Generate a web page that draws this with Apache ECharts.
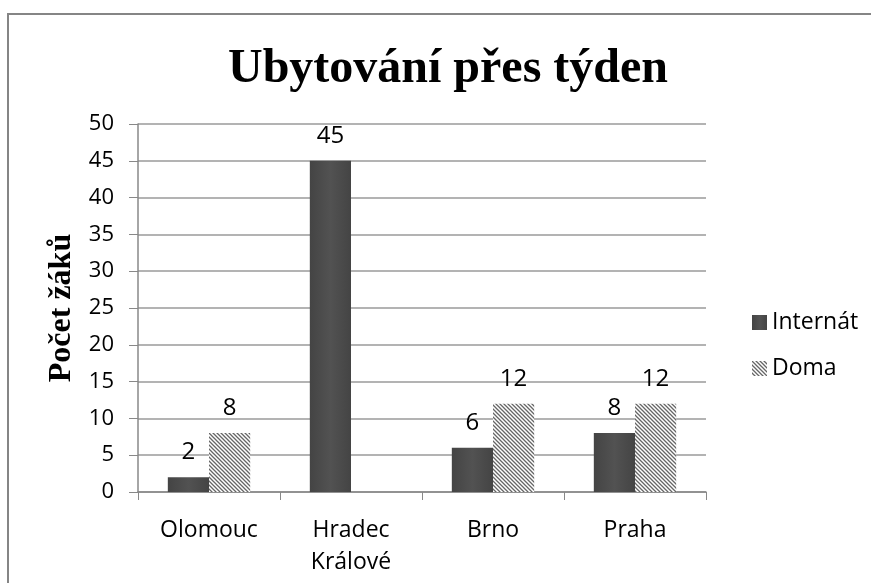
<!DOCTYPE html>
<html>
<head>
<meta charset="utf-8">
<script src="https://cdn.jsdelivr.net/npm/echarts@6/dist/echarts.min.js"></script>
<style>
  html, body { margin: 0; padding: 0; background: #fff; }
  #chart { width: 871px; height: 583px; }
</style>
</head>
<body>
<div id="chart"></div>
<script>
var categories = ['Olomouc', 'Hradec\nKrálové', 'Brno', 'Praha'];
var internat = [2, 45, 6, 8];
var doma = [8, null, 12, 12];
var yTicks = [0, 5, 10, 15, 20, 25, 30, 35, 40, 45, 50];

// hatch pattern for "Doma"
var hatch = document.createElement('canvas');
hatch.width = 4;
hatch.height = 4;
var hc = hatch.getContext('2d');
hc.fillStyle = '#ffffff';
hc.fillRect(0, 0, 4, 4);
hc.strokeStyle = '#666666';
hc.lineWidth = 1.3;
hc.beginPath();
hc.moveTo(-1, -1); hc.lineTo(5, 5);
hc.moveTo(-1, 3); hc.lineTo(1, 5);
hc.moveTo(3, -1); hc.lineTo(5, 1);
hc.stroke();

var chart = echarts.init(document.getElementById('chart'));
var labelFont = { color: '#000', fontSize: 24, fontFamily: 'Open Sans' };

var option = {
	animation: false,
	title: {
		text: 'Ubytování přes týden',
		left: 443,
		top: 41,
		textAlign: 'center',
		textStyle: { fontFamily: 'Liberation Serif', fontSize: 48, fontWeight: 'bold', color: '#000' }
	},
	graphic: [{
		type: 'rect',
		shape: { x: 8, y: 14, width: 880, height: 600 },
		style: { fill: 'none', stroke: '#858585', lineWidth: 2 },
		silent: true
	}],
	grid: { left: 138, right: 165, top: 124, bottom: 91 },
	legend: {
		orient: 'vertical',
		left: 747,
		top: 306,
		itemWidth: 15,
		itemHeight: 15,
		itemGap: 23,
		icon: 'rect',
		textStyle: { fontSize: 23, fontFamily: 'Open Sans', color: '#000' },
		data: ['Internát', 'Doma']
	},
	xAxis: {
		type: 'category',
		data: categories,
		axisLine: { lineStyle: { color: '#888', width: 1.5 } },
		axisTick: { show: true, length: 8, lineStyle: { color: '#888' } },
		axisLabel: { fontSize: 23, fontFamily: 'Open Sans', color: '#000', margin: 22, lineHeight: 32 }
	},
	yAxis: {
		type: 'value',
		min: 0,
		max: 50,
		interval: 5,
		name: 'Počet žáků',
		nameLocation: 'middle',
		nameGap: 58,
		nameTextStyle: { fontFamily: 'Liberation Serif', fontSize: 32, fontWeight: 'bold', color: '#000' },
		axisLine: { show: true, lineStyle: { color: '#888', width: 1.5 } },
		axisTick: { show: true, inside: false, length: 9, lineStyle: { color: '#888' } },
		axisLabel: {
			fontSize: 22, fontFamily: 'Open Sans', color: '#000', margin: 24,
			formatter: function (v) { return yTicks.indexOf(v) >= 0 ? String(v) : ''; }
		},
		splitLine: { lineStyle: { color: '#9a9a9a', width: 1.5 } }
	},
	series: [{
		name: 'Internát',
		type: 'bar',
		data: internat,
		barGap: '0%',
		barCategoryGap: '42%',
		itemStyle: {
			color: {
				type: 'linear', x: 0, y: 0, x2: 1, y2: 0,
				colorStops: [
					{ offset: 0, color: '#444' },
					{ offset: 0.5, color: '#525252' },
					{ offset: 1, color: '#444' }
				]
			}
		},
		label: Object.assign({ show: true, position: 'top', distance: 13 }, labelFont)
	}, {
		name: 'Doma',
		type: 'bar',
		data: doma,
		itemStyle: { color: { image: hatch, repeat: 'repeat' } },
		label: Object.assign({ show: true, position: 'top', distance: 13 }, labelFont)
	}]
};
chart.setOption(option);
</script>
</body>
</html>
